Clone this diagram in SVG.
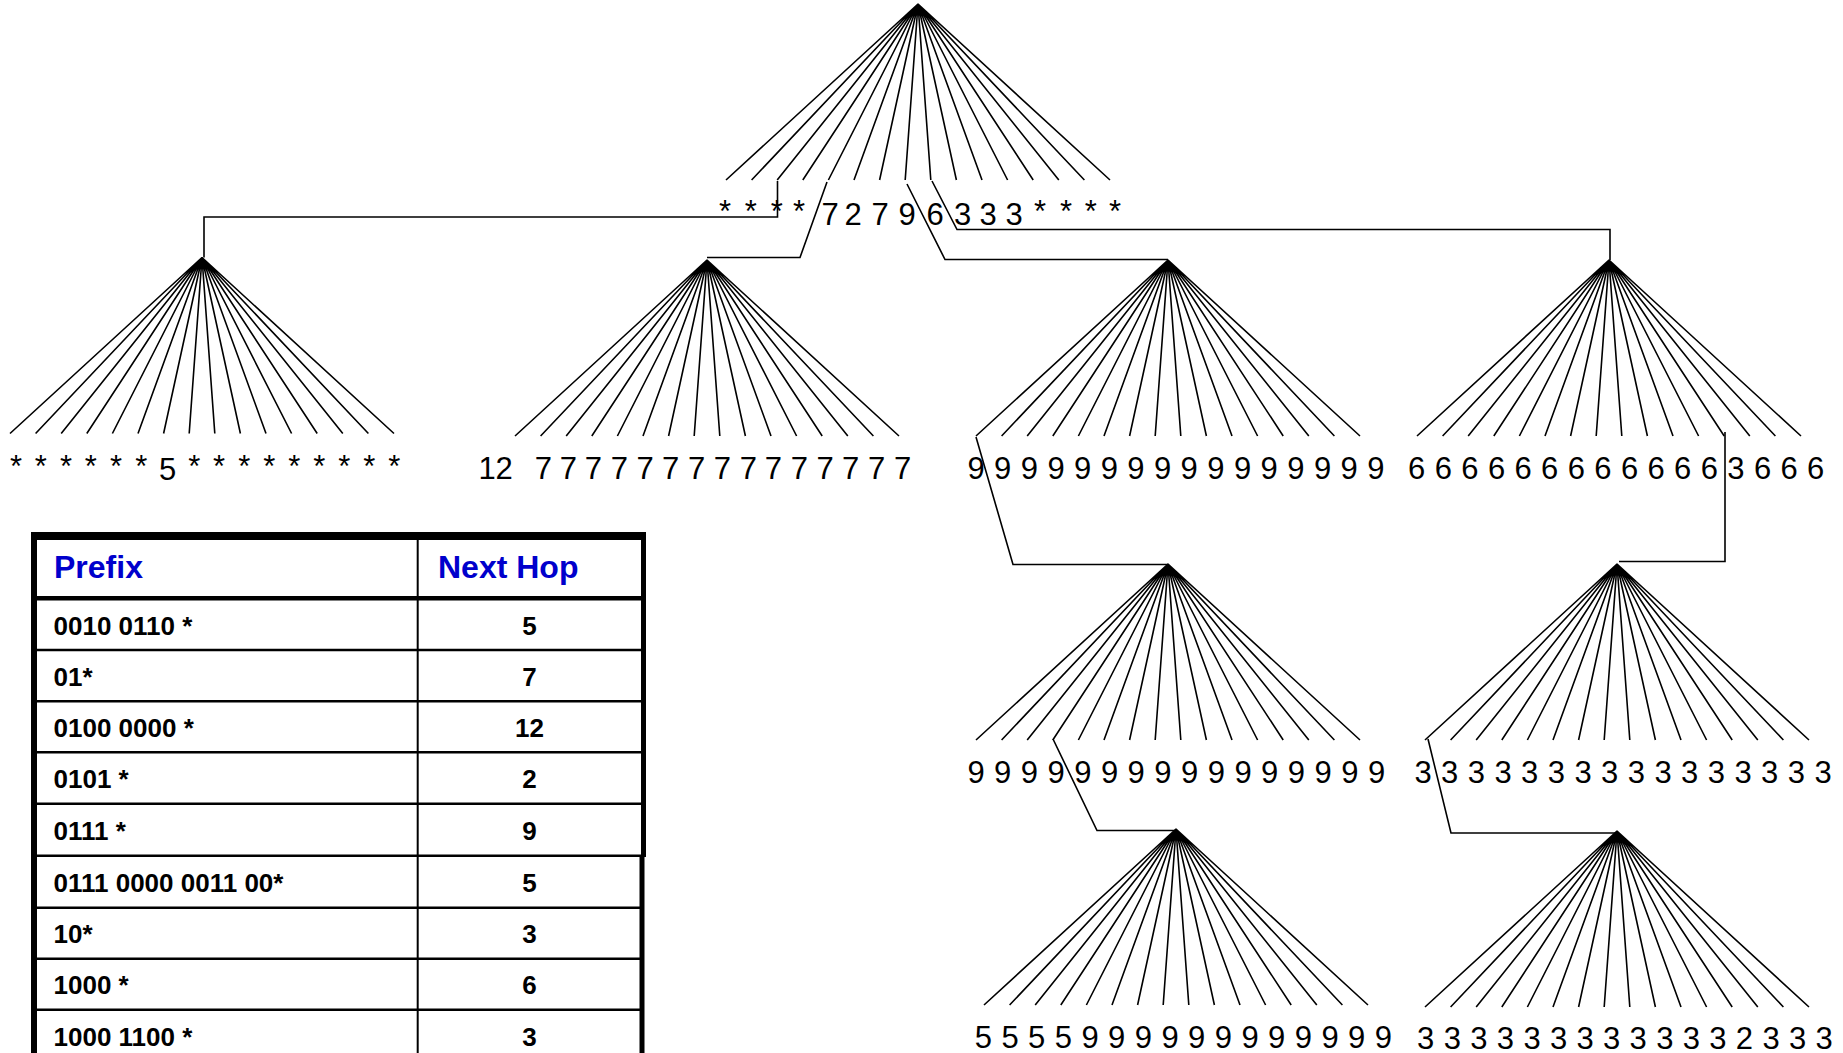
<svg xmlns="http://www.w3.org/2000/svg" xmlns:xlink="http://www.w3.org/1999/xlink" width="1843" height="1053" viewBox="0 0 1843 1053">
<style>
.fan{fill:none;stroke:#000;stroke-width:1.6}
.con{fill:none;stroke:#000;stroke-width:1.6;stroke-linejoin:miter}
.lbl{font-family:"Liberation Sans",Arial,Helvetica,sans-serif;font-size:31px;fill:#000;text-anchor:middle}
.th{font-family:"Liberation Sans",Arial,Helvetica,sans-serif;font-size:32px;font-weight:bold;fill:#0000CC}
.td{font-family:"Liberation Sans",Arial,Helvetica,sans-serif;font-size:26px;font-weight:bold;fill:#000}
.tv{font-family:"Liberation Sans",Arial,Helvetica,sans-serif;font-size:26px;font-weight:bold;fill:#000;text-anchor:middle}
.grid{stroke:#000;fill:none}
</style>
<defs>
<path id="fan" class="fan" d="M0 0L-192 176M0 0L-166.4 176M0 0L-140.8 176M0 0L-115.2 176M0 0L-89.6 176M0 0L-64 176M0 0L-38.4 176M0 0L-12.8 176M0 0L12.8 176M0 0L38.4 176M0 0L64 176M0 0L89.6 176M0 0L115.2 176M0 0L140.8 176M0 0L166.4 176M0 0L192 176"/>
</defs>
<rect width="1843" height="1053" fill="#fff"/>

<g id="trie-root">
<use href="#fan" xlink:href="#fan" x="918" y="4"/>
<text class="lbl" x="725 737.9 750.7 763.7 776.7 787.9 799 814.5 830 841.5 853 866.5 880 893.5 907 921 935 948.8 962.5 975.3 988 1001 1014 1027 1040 1053 1066 1078.4 1090.7 1102.9 1115" y="222 222 222 222 222 222 222 222 225 225 225 225 225 225 225 225 225 225 225 225 225 225 225 222 222 222 222 222 222 222 222">* * * * 7 2 7 9 6 3 3 3 * * * *</text>
</g>

<g id="trie-0010">
<use href="#fan" xlink:href="#fan" x="202" y="257.5"/>
<text class="lbl" x="16 28.4 40.7 53.4 66 78.4 90.7 103.4 116 128.7 141.3 154.5 167.7 181 194.3 206.7 219 231.7 244.3 256.8 269.3 281.8 294.3 306.8 319.3 331.8 344.3 356.8 369.3 381.8 394.3" y="477 477 477 477 477 477 477 477 477 477 477 477 480 477 477 477 477 477 477 477 477 477 477 477 477 477 477 477 477 477 477">* * * * * * 5 * * * * * * * * *</text>
</g>

<g id="trie-0100">
<use href="#fan" xlink:href="#fan" x="707" y="260"/>
<text class="lbl" x="487 504 523.7 543.3 555.8 568.3 580.8 593.3 606.3 619.3 632.2 645 657.9 670.7 683.7 696.7 709.5 722.3 735.3 748.3 760.8 773.3 786.3 799.3 812.2 825 837.9 850.7 863.7 876.7 889.7 902.7" y="478.5">12 7 7 7 7 7 7 7 7 7 7 7 7 7 7 7</text>
</g>

<g id="trie-0111">
<use href="#fan" xlink:href="#fan" x="1168" y="260"/>
<text class="lbl" x="976 989.3 1002.7 1016 1029.3 1042.6 1056 1069.3 1082.6 1095.9 1109.3 1122.6 1135.9 1149.2 1162.6 1175.9 1189.2 1202.5 1215.9 1229.2 1242.5 1255.8 1269.2 1282.5 1295.8 1309.1 1322.5 1335.8 1349.1 1362.4 1375.8" y="479">9 9 9 9 9 9 9 9 9 9 9 9 9 9 9 9</text>
</g>

<g id="trie-1000">
<use href="#fan" xlink:href="#fan" x="1609" y="260"/>
<text class="lbl" x="1416.7 1430 1443.3 1456.6 1469.9 1483.2 1496.5 1509.8 1523.1 1536.4 1549.7 1563 1576.3 1589.6 1602.9 1616.2 1629.5 1642.8 1656.1 1669.4 1682.7 1696 1709.3 1722.6 1735.9 1749.2 1762.5 1775.8 1789.1 1802.4 1815.7" y="479">6 6 6 6 6 6 6 6 6 6 6 6 3 6 6 6</text>
</g>

<g id="trie-0111-0000">
<use href="#fan" xlink:href="#fan" x="1168" y="564"/>
<text class="lbl" x="976 989.35 1002.7 1016.05 1029.4 1042.75 1056.1 1069.45 1082.8 1096.15 1109.5 1122.85 1136.2 1149.55 1162.9 1176.25 1189.6 1202.95 1216.3 1229.65 1243 1256.35 1269.7 1283.05 1296.4 1309.75 1323.1 1336.45 1349.8 1363.15 1376.5" y="782.5">9 9 9 9 9 9 9 9 9 9 9 9 9 9 9 9</text>
</g>

<g id="trie-1000-1100">
<use href="#fan" xlink:href="#fan" x="1617" y="564"/>
<text class="lbl" x="1423 1436.3 1449.7 1463 1476.3 1489.7 1503 1516.3 1529.7 1543 1556.3 1569.7 1583 1596.3 1609.7 1623 1636.3 1649.7 1663 1676.3 1689.7 1703 1716.3 1729.7 1743 1756.3 1769.7 1783 1796.3 1809.7 1823" y="782.5">3 3 3 3 3 3 3 3 3 3 3 3 3 3 3 3</text>
</g>

<g id="trie-0111-0000-0011">
<use href="#fan" xlink:href="#fan" x="1176" y="829"/>
<text class="lbl" x="983.3 996.6 1010 1023.3 1036.6 1050 1063.3 1076.6 1090 1103.3 1116.6 1130 1143.3 1156.6 1170 1183.3 1196.6 1210 1223.3 1236.6 1250 1263.3 1276.6 1290 1303.3 1316.6 1330 1343.3 1356.6 1370 1383.3" y="1048">5 5 5 5 9 9 9 9 9 9 9 9 9 9 9 9</text>
</g>

<g id="trie-1000-1100-0000">
<use href="#fan" xlink:href="#fan" x="1617" y="831"/>
<text class="lbl" x="1425.7 1439 1452.3 1465.5 1478.8 1492.1 1505.4 1518.7 1532 1545.2 1558.5 1571.8 1585.1 1598.3 1611.6 1624.9 1638.2 1651.5 1664.8 1678 1691.3 1704.6 1717.9 1731.1 1744.4 1757.7 1771 1784.3 1797.5 1810.8 1824.1" y="1048.5">3 3 3 3 3 3 3 3 3 3 3 3 2 3 3 3</text>
</g>

<g id="connectors">
<path class="con" d="M777.5 181V217H204V257.5"/>
<path class="con" d="M827 182L800 257.5H707"/>
<path class="con" d="M907 184L945 259.5H1168"/>
<path class="con" d="M932 181L957 229.5H1610V260"/>
<path class="con" d="M976 437L1013 564.5H1168"/>
<path class="con" d="M1725 432V561.5H1619"/>
<path class="con" d="M1053 739L1097 830.5H1176"/>
<path class="con" d="M1428 739L1451 833H1617"/>
</g>

<g id="prefix-table">
<g class="grid">
<line x1="31" y1="650" x2="644" y2="650" stroke-width="2.5"/>
<line x1="31" y1="701.3" x2="644" y2="701.3" stroke-width="2.5"/>
<line x1="31" y1="752.2" x2="644" y2="752.2" stroke-width="2.5"/>
<line x1="31" y1="803.8" x2="644" y2="803.8" stroke-width="2.5"/>
<line x1="31" y1="855.7" x2="644" y2="855.7" stroke-width="2.5"/>
<line x1="31" y1="907.7" x2="644" y2="907.7" stroke-width="2.5"/>
<line x1="31" y1="958.8" x2="644" y2="958.8" stroke-width="2.5"/>
<line x1="31" y1="1009.8" x2="644" y2="1009.8" stroke-width="2.5"/>
<line x1="417.7" y1="536" x2="417.7" y2="1053" stroke-width="2"/>
<line x1="31" y1="598.3" x2="644" y2="598.3" stroke-width="4.5"/>
<line x1="34" y1="532" x2="34" y2="1053" stroke-width="6"/>
<line x1="643.5" y1="532" x2="643.5" y2="857" stroke-width="5"/>
<line x1="642" y1="857" x2="642" y2="1053" stroke-width="5"/>
<line x1="31" y1="536" x2="646" y2="536" stroke-width="8"/>
</g>
<text class="th" x="54" y="578">Prefix</text>
<text class="th" x="438" y="578">Next Hop</text>
<text class="td" x="53.5" y="634.5">0010 0110 *</text>
<text class="td" x="53.5" y="685.8">01*</text>
<text class="td" x="53.5" y="736.7">0100 0000 *</text>
<text class="td" x="53.5" y="788.3">0101 *</text>
<text class="td" x="53.5" y="840.2">0111 *</text>
<text class="td" x="53.5" y="892.2">0111 0000 0011 00*</text>
<text class="td" x="53.5" y="943.3">10*</text>
<text class="td" x="53.5" y="994.3">1000 *</text>
<text class="td" x="53.5" y="1045.5">1000 1100 *</text>
<text class="tv" x="529.5" y="634.5">5</text>
<text class="tv" x="529.5" y="685.8">7</text>
<text class="tv" x="529.5" y="736.7">12</text>
<text class="tv" x="529.5" y="788.3">2</text>
<text class="tv" x="529.5" y="840.2">9</text>
<text class="tv" x="529.5" y="892.2">5</text>
<text class="tv" x="529.5" y="943.3">3</text>
<text class="tv" x="529.5" y="994.3">6</text>
<text class="tv" x="529.5" y="1045.5">3</text>
</g>
</svg>
